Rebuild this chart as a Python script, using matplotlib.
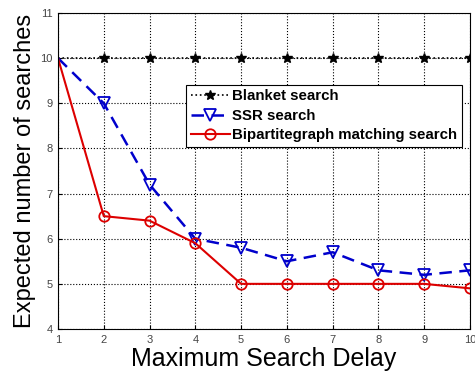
import matplotlib
matplotlib.use("Agg")
import matplotlib.pyplot as plt

delay = [1, 2, 3, 4, 5, 6, 7, 8, 9, 10]
blanket = [10, 10, 10, 10, 10, 10, 10, 10, 10, 10]
ssr = [10, 9.0, 7.2, 6.0, 5.8, 5.5, 5.7, 5.3, 5.2, 5.3]
bipartite = [10, 6.5, 6.4, 5.9, 5.0, 5.0, 5.0, 5.0, 5.0, 4.9]

plt.rcParams['font.family'] = ['Liberation Sans', 'DejaVu Sans']

fig = plt.figure(figsize=(4.75, 3.78), dpi=100)
ax = fig.add_axes([58 / 475, 1 - 329 / 378, (470 - 58) / 475, (329 - 13) / 378])

marks = list(range(1, len(delay)))
ax.plot(delay, blanket, color='black', linestyle=':', linewidth=1.2,
        marker='*', markersize=7, markevery=marks, label='Blanket search')
ax.plot(delay, ssr, color='#0000cc', linestyle='--', linewidth=1.8, dashes=(5, 3),
        marker='v', markersize=8, markerfacecolor='none', markeredgewidth=1.3,
        markevery=marks, label='SSR search')
ax.plot(delay, bipartite, color='#dd0000', linestyle='-', linewidth=1.5,
        marker='o', markersize=7.5, markerfacecolor='none', markeredgewidth=1.3,
        markevery=marks, label='Bipartitegraph matching search')

ax.set_xlim(1, 10)
ax.set_ylim(4, 11)
ax.set_xticks(delay)
ax.set_yticks(range(4, 12))
ax.tick_params(direction='in', labelsize=8, labelcolor='#444444', length=3, pad=4)
ax.grid(True, color='black', linestyle=':', linewidth=0.8)
for s in ax.spines.values():
    s.set_linewidth(0.8)

ax.set_xlabel('Maximum Search Delay', fontsize=18, labelpad=2)
ax.set_ylabel('Expected number of searches', fontsize=17, labelpad=3)

leg = ax.legend(loc='upper left', bbox_to_anchor=((186 - 58) / 412, (329 - 85) / 316),
                fancybox=False, framealpha=1, edgecolor='black',
                prop={'weight': 'bold', 'size': 10.8}, borderpad=0.3,
                labelspacing=0.35, handlelength=2.6, handletextpad=0.2,
                borderaxespad=0)
leg.get_frame().set_linewidth(0.8)

fig.savefig('out.png', dpi=100)
